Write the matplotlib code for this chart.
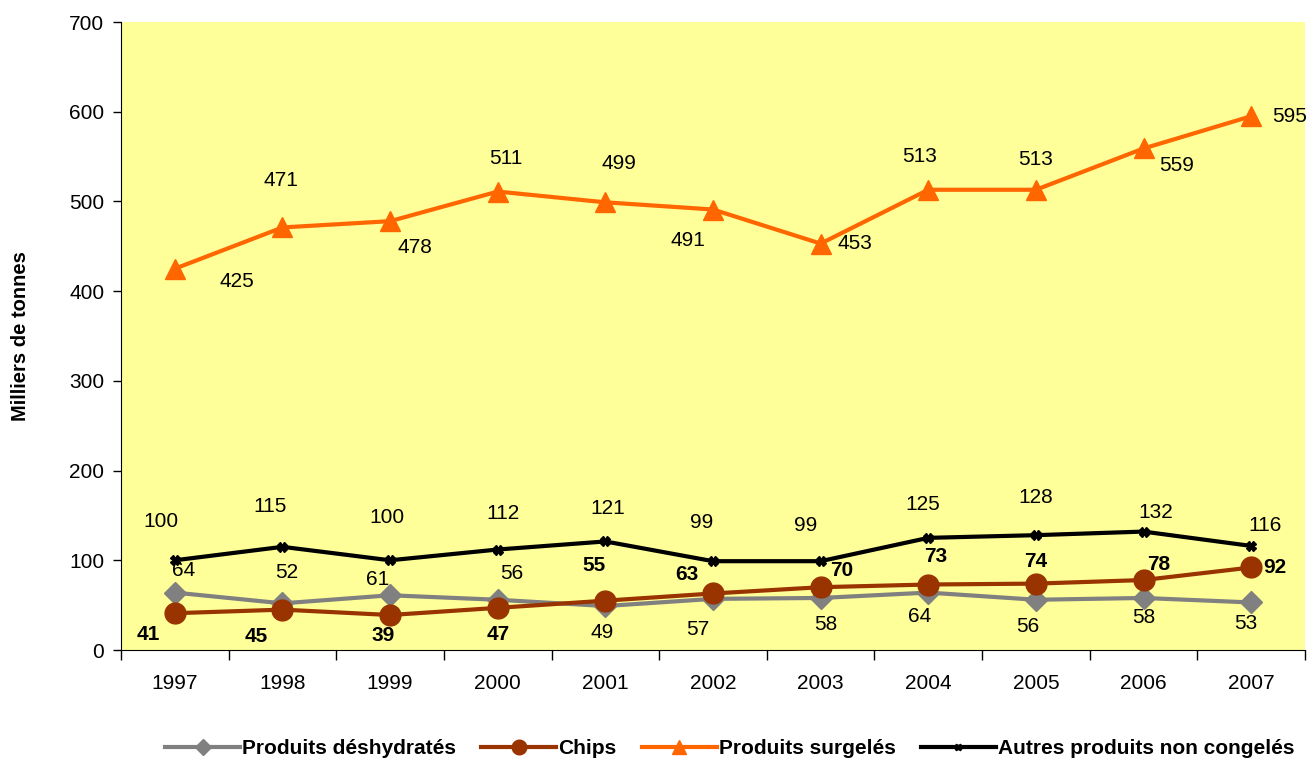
import matplotlib.pyplot as plt
from matplotlib.ticker import FixedLocator, NullFormatter, FixedFormatter

plt.rcParams['font.family'] = ['Liberation Sans', 'DejaVu Sans']

years = ['1997', '1998', '1999', '2000', '2001', '2002', '2003', '2004', '2005', '2006', '2007']
deshydrates = [64, 52, 61, 56, 49, 57, 58, 64, 56, 58, 53]
chips = [41, 45, 39, 47, 55, 63, 70, 73, 74, 78, 92]
surgeles = [425, 471, 478, 511, 499, 491, 453, 513, 513, 559, 595]
autres = [100, 115, 100, 112, 121, 99, 99, 125, 128, 132, 116]

# label offsets in points (dx, dy)
off_desh = [(6, 16), (3, 22), (-9, 11), (10, 19), (-2, -19), (-11, -22), (4, -19), (-6, -17), (-6, -19), (0, -14), (-4, -15)]
off_chips = [(-19, -15), (-19, -19), (-5, -15), (0, -19), (-8, 25), (-19, 14), (15, 12), (5, 20), (0, 16), (11, 11), (17, 0)]
off_surg = [(45, -9), (-1, 34), (18, -19), (6, 24), (10, 28), (-18, -22), (25, 0), (-6, 24), (0, 22), (24, -12), (28, 0)]
off_autres = [(-10, 28), (-9, 29), (-2, 31), (4, 26), (2, 24), (-8, 28), (-11, 26), (-4, 24), (0, 27), (9, 14), (10, 15)]

x = list(range(len(years)))

fig = plt.figure(figsize=(13.08, 7.62), dpi=100)
ax = fig.add_axes([121 / 1308, 1 - 650 / 762, 1184 / 1308, 628 / 762])
ax.set_facecolor('#FFFF99')

series = [
    ('Produits déshydratés', deshydrates, '#808080', 'D', 11, off_desh, 'normal'),
    ('Chips', chips, '#993300', 'o', 15, off_chips, 'bold'),
    ('Produits surgelés', surgeles, '#FF6600', '^', 14, off_surg, 'normal'),
    ('Autres produits non congelés', autres, '#000000', 'X', 7, off_autres, 'normal'),
]

for name, vals, color, marker, ms, offs, weight in series:
    ax.plot(x, vals, color=color, lw=3, marker=marker, markersize=ms,
            markerfacecolor=color, markeredgecolor=color, label=name, zorder=3)
    for xi, v, (dx, dy) in zip(x, vals, offs):
        ax.annotate(str(v), (xi, v), xytext=(dx, dy), textcoords='offset points',
                    ha='center', va='center', fontsize=15, fontweight=weight, zorder=4)

ax.set_xlim(-0.5, 10.5)
ax.set_ylim(0, 700)
ax.set_yticks(range(0, 701, 100))
ax.xaxis.set_major_locator(FixedLocator([i - 0.5 for i in range(12)]))
ax.xaxis.set_major_formatter(NullFormatter())
ax.xaxis.set_minor_locator(FixedLocator(x))
ax.xaxis.set_minor_formatter(FixedFormatter(years))
ax.tick_params(axis='x', which='major', direction='out', length=7, width=1)
ax.tick_params(axis='x', which='minor', length=0, pad=17, labelsize=15)
ax.tick_params(axis='y', direction='out', length=6, width=1, labelsize=15, pad=6)

for s in ['top', 'right']:
    ax.spines[s].set_visible(False)

ax.set_ylabel('Milliers de tonnes', fontsize=14.5, fontweight='bold', labelpad=28)

fig.legend(loc='lower center', bbox_to_anchor=(0.558, -0.02), ncol=4, frameon=False,
           prop={'weight': 'bold', 'size': 15}, handlelength=3.6, handletextpad=0.1,
           columnspacing=1.2, markerscale=0.7)

fig.savefig('out.png', dpi=100)
